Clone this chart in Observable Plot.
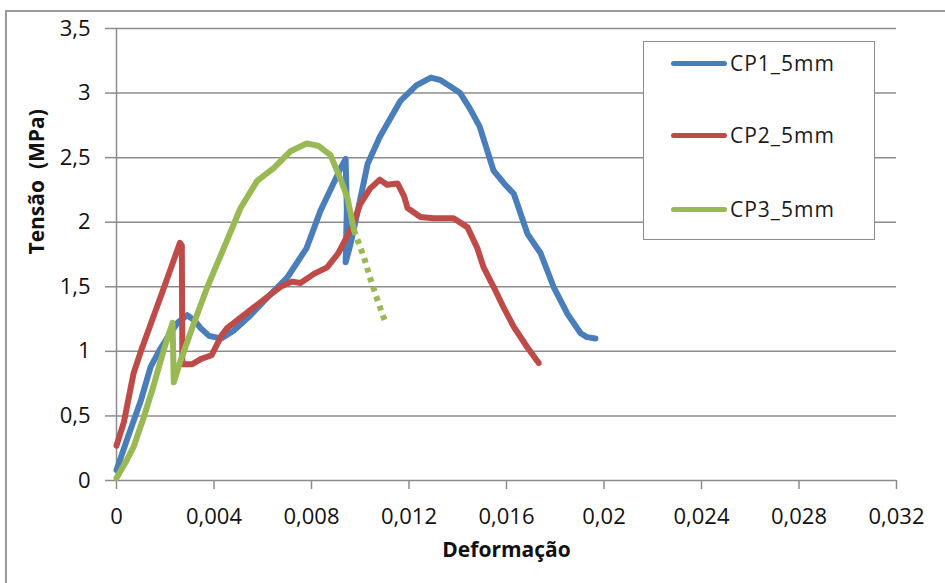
<!DOCTYPE html>
<html>
<head>
<meta charset="utf-8">
<script src="https://cdn.jsdelivr.net/npm/d3@7"></script>
<script src="https://cdn.jsdelivr.net/npm/@observablehq/plot@0.6"></script>
<style>
  html, body { margin: 0; padding: 0; background: #fff; }
  #wrap { position: relative; width: 945px; height: 583px; overflow: hidden; }
  #frame { position: absolute; left: 5px; top: 10px; width: 960px; height: 600px;
           border-left: 2px solid #9a9a9a; border-top: 2px solid #9a9a9a; }
  #chart { position: absolute; left: 0; top: 0; }
  #legend { position: absolute; left: 643px; top: 41px; width: 230px; height: 197px;
            border: 1.5px solid #8c8c8c; background: #fff; font-family: "Open Sans", sans-serif; }
  .entry { position: absolute; left: 27px; height: 30px; display: flex; align-items: center; }
  .sw { width: 56px; height: 5px; border-radius: 3px; margin-right: 3px; }
  .lab { font-size: 21px; letter-spacing: 1px; color: #1a1a1a; }
</style>
</head>
<body>
<div id="wrap">
  <div id="frame"></div>
  <div id="chart"></div>
  <div id="legend"></div>
</div>
<script>
// ---- data (deformação, tensão) ----
const seriesNames = ["CP1_5mm", "CP2_5mm", "CP3_5mm"];
const seriesColors = ["#4A7EBB", "#BE4B48", "#98B954"];

const cp1 = [
  [0, 0.08], [0.0004, 0.30], [0.0007, 0.46], [0.0010, 0.62], [0.0014, 0.88],
  [0.0018, 1.02], [0.0021, 1.11], [0.0025, 1.22], [0.0029, 1.28], [0.0032, 1.24],
  [0.00345, 1.18], [0.0038, 1.12], [0.0043, 1.10], [0.0048, 1.16], [0.0055, 1.28],
  [0.0062, 1.42], [0.0070, 1.57], [0.0078, 1.80], [0.00837, 2.09], [0.0089, 2.30],
  [0.0092, 2.42], [0.0094, 2.49], [0.00945, 2.10], [0.0094, 1.69], [0.0096, 1.83],
  [0.00988, 2.07], [0.0103, 2.45], [0.0108, 2.66], [0.01165, 2.94], [0.0123, 3.06],
  [0.0129, 3.12], [0.0133, 3.10], [0.0137, 3.05], [0.0141, 3.00], [0.0145, 2.88],
  [0.0149, 2.74], [0.0152, 2.56], [0.01547, 2.40], [0.0159, 2.30], [0.0163, 2.22],
  [0.01686, 1.91], [0.0174, 1.76], [0.01793, 1.50], [0.0185, 1.29], [0.01904, 1.14],
  [0.0193, 1.11], [0.01965, 1.10]
];

const cp2 = [
  [0, 0.27], [0.0003, 0.45], [0.0007, 0.83], [0.0010, 1.00], [0.0014, 1.21],
  [0.0019, 1.47], [0.0023, 1.68], [0.0026, 1.84], [0.00268, 1.82], [0.0027, 0.90],
  [0.0031, 0.90], [0.00345, 0.94], [0.0039, 0.97], [0.0043, 1.12], [0.00454, 1.18],
  [0.00563, 1.34], [0.00673, 1.50], [0.0072, 1.54], [0.00755, 1.53], [0.0081, 1.60],
  [0.00864, 1.65], [0.0091, 1.76], [0.0096, 1.94], [0.0100, 2.14], [0.0104, 2.26],
  [0.0108, 2.33], [0.0111, 2.29], [0.01153, 2.30], [0.0118, 2.20], [0.01194, 2.11],
  [0.01247, 2.04], [0.0130, 2.03], [0.01383, 2.03], [0.0144, 1.96], [0.0148, 1.80],
  [0.01506, 1.65], [0.01547, 1.50], [0.01588, 1.34], [0.0163, 1.19], [0.01686, 1.03],
  [0.01732, 0.91]
];

const cp3 = [
  [0, 0.02], [0.0004, 0.15], [0.0007, 0.26], [0.0011, 0.48], [0.0015, 0.72],
  [0.0018, 0.92], [0.0021, 1.11], [0.0023, 1.22], [0.00235, 0.76], [0.00263, 0.93],
  [0.00316, 1.21], [0.00373, 1.50], [0.00427, 1.74], [0.00509, 2.11], [0.00577, 2.32],
  [0.00646, 2.42], [0.00714, 2.55], [0.0078, 2.61], [0.0083, 2.59], [0.00878, 2.52],
  [0.0092, 2.33], [0.00947, 2.19], [0.00974, 1.94], [0.01015, 1.73], [0.0104, 1.57],
  [0.0107, 1.40], [0.01104, 1.22]
];
const cp3DashedFrom = 0.00974; // tail of CP3 drawn as sparse dots/dashes

const xTicks = [0, 0.004, 0.008, 0.012, 0.016, 0.02, 0.024, 0.028, 0.032];
const yTicks = [0, 0.5, 1, 1.5, 2, 2.5, 3, 3.5];
const xTitle = "Deformação";
const yTitle = "Tensão\u00a0 (MPa)";

const fmt = d => String(d).replace(".", ",");
const toRows = (arr, name) => arr.map(([x, y]) => ({x, y, name}));
const rows1 = toRows(cp1, seriesNames[0]);
const rows2 = toRows(cp2, seriesNames[1]);
const rows3 = toRows(cp3, seriesNames[2]);
const rows3solid = rows3.filter(d => d.x <= cp3DashedFrom);
const rows3tail = rows3.filter(d => d.x >= cp3DashedFrom);

const lineOpts = (c) => ({x: "x", y: "y", stroke: c, strokeWidth: 6, strokeLinejoin: "round", strokeLinecap: "round", curve: "linear"});

const chart = Plot.plot({
  width: 945, height: 583,
  marginLeft: 116, marginRight: 49, marginTop: 28, marginBottom: 103,
  style: {fontFamily: "'Open Sans', sans-serif", fontSize: "22px", color: "#111", background: "transparent", overflow: "visible"},
  x: {domain: [0, 0.032]},
  y: {domain: [0, 3.5]},
  marks: [
    Plot.ruleY(yTicks, {stroke: "#8c8c8c", strokeWidth: 1.5}),
    Plot.ruleX([0], {stroke: "#8c8c8c", strokeWidth: 1.5}),
    Plot.axisX({ticks: xTicks, tickFormat: fmt, tickSize: 9, tickPadding: 19, stroke: "#8c8c8c", strokeWidth: 1.5, label: null}),
    Plot.axisY({ticks: yTicks, tickFormat: fmt, tickSize: 11, tickPadding: 15, stroke: "#8c8c8c", strokeWidth: 1.5, label: null}),
    Plot.line(rows1, lineOpts(seriesColors[0])),
    Plot.line(rows2, lineOpts(seriesColors[1])),
    Plot.line(rows3solid, lineOpts(seriesColors[2])),
    Plot.line(rows3tail, {...lineOpts(seriesColors[2]), strokeDasharray: "5,5", strokeLinecap: "butt"}),
    Plot.text([xTitle], {frameAnchor: "bottom", dy: 76, fontWeight: "bold", fontSize: 21, fill: "#111", letterSpacing: "0.5px"}),
    Plot.text([yTitle], {frameAnchor: "left", dx: -79, rotate: -90, fontWeight: "bold", fontSize: 21, fill: "#111", letterSpacing: "0.5px"})
  ]
});
document.getElementById("chart").appendChild(chart);

// legend
const legend = document.getElementById("legend");
const tops = [6, 78, 152];
seriesNames.forEach((n, i) => {
  const e = document.createElement("div");
  e.className = "entry";
  e.style.top = tops[i] + "px";
  e.innerHTML = `<div class="sw" style="background:${seriesColors[i]}"></div><span class="lab">${n}</span>`;
  legend.appendChild(e);
});
</script>
</body>
</html>
